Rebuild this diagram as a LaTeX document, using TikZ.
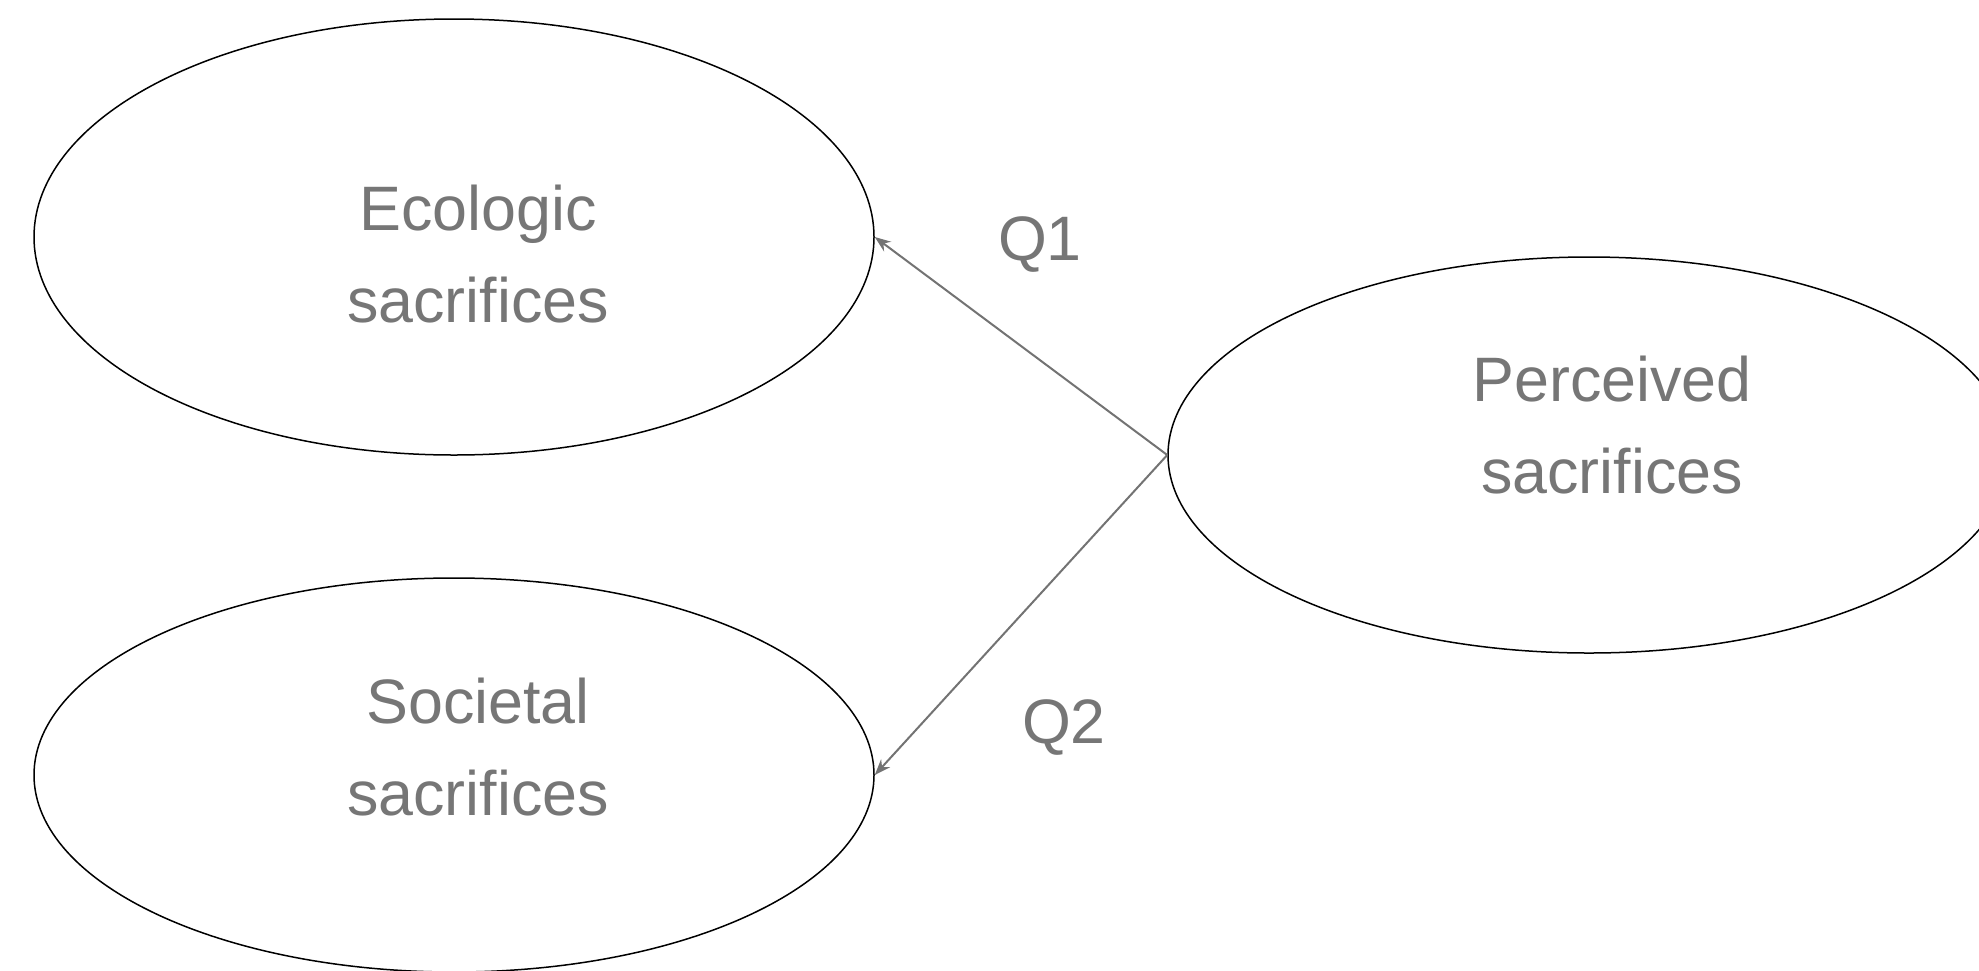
\documentclass[tikz,border=0pt]{standalone}
\usepackage{fontspec}
\setmainfont{Liberation Sans}
\usetikzlibrary{shapes.geometric,arrows.meta}
\definecolor{txtgray}{RGB}{118,118,118}
\definecolor{arrgray}{RGB}{115,115,115}
\tikzset{
  oval/.style={ellipse, draw=black, line width=0.75pt, inner sep=0pt, minimum width=420pt},
  lbl/.style={anchor=base, inner sep=0pt, text=txtgray, font=\fontsize{31.4}{38}\selectfont},
  arr/.style={draw=arrgray, line width=1pt, -{Stealth[length=8pt,width=6pt]}}
}
\begin{document}
\begin{tikzpicture}[x=0.5pt,y=-0.5pt]
\useasboundingbox (0,0) rectangle (1979,970);
\node[oval, minimum height=218pt] (eco) at (454,237) {};
\node[oval, minimum height=197pt] (soc) at (454,775) {};
\node[oval, minimum width=421pt, minimum height=198pt] (per) at (1589,455) {};
\node[lbl] (ecoA) at (478,230) {Ecologic};
\node[lbl] (ecoB) at (478,322) {sacrifices};
\node[lbl] (socA) at (478,723) {Societal};
\node[lbl] (socB) at (478,815) {sacrifices};
\node[lbl] (perA) at (1612,401) {Perceived};
\node[lbl] (perB) at (1612,493) {sacrifices};
\node[lbl] (q1) at (1040,260) {Q1};
\node[lbl] (q2) at (1064,743) {Q2};
\draw[arr] (per.west) -- (eco.east);
\draw[arr] (per.west) -- (soc.east);
\end{tikzpicture}
\end{document}
